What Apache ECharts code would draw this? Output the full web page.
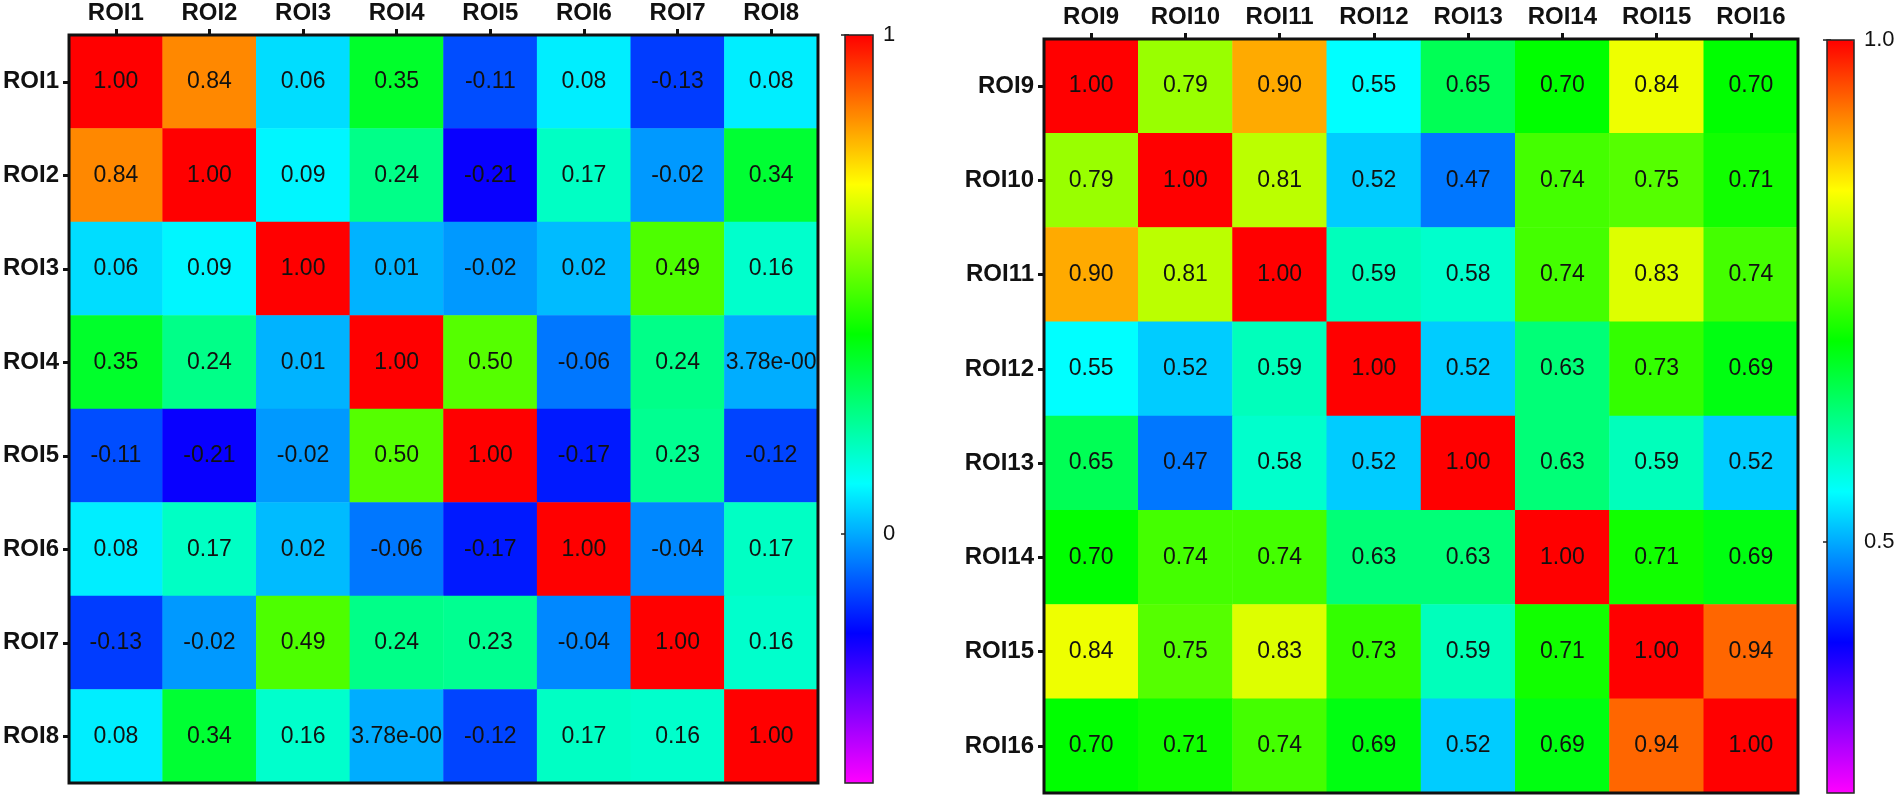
<!DOCTYPE html>
<html>
<head>
<meta charset="utf-8">
<title>ROI correlation heatmaps</title>
<script src="https://cdn.jsdelivr.net/npm/echarts@6/dist/echarts.min.js"></script>
<style>
  html, body { margin: 0; padding: 0; background: #fff; }
  #chart { width: 1902px; height: 799px; }
</style>
</head>
<body>
<div id="chart"></div>
<script>
var leftRois = ['ROI1', 'ROI2', 'ROI3', 'ROI4', 'ROI5', 'ROI6', 'ROI7', 'ROI8'];
var leftCorr = [
  [1.00, 0.84, 0.06, 0.35, -0.11, 0.08, -0.13, 0.08],
  [0.84, 1.00, 0.09, 0.24, -0.21, 0.17, -0.02, 0.34],
  [0.06, 0.09, 1.00, 0.01, -0.02, 0.02, 0.49, 0.16],
  [0.35, 0.24, 0.01, 1.00, 0.50, -0.06, 0.24, 0.00378],
  [-0.11, -0.21, -0.02, 0.50, 1.00, -0.17, 0.23, -0.12],
  [0.08, 0.17, 0.02, -0.06, -0.17, 1.00, -0.04, 0.17],
  [-0.13, -0.02, 0.49, 0.24, 0.23, -0.04, 1.00, 0.16],
  [0.08, 0.34, 0.16, 0.00378, -0.12, 0.17, 0.16, 1.00]
];

var rightRois = ['ROI9', 'ROI10', 'ROI11', 'ROI12', 'ROI13', 'ROI14', 'ROI15', 'ROI16'];
var rightCorr = [
  [1.00, 0.79, 0.90, 0.55, 0.65, 0.70, 0.84, 0.70],
  [0.79, 1.00, 0.81, 0.52, 0.47, 0.74, 0.75, 0.71],
  [0.90, 0.81, 1.00, 0.59, 0.58, 0.74, 0.83, 0.74],
  [0.55, 0.52, 0.59, 1.00, 0.52, 0.63, 0.73, 0.69],
  [0.65, 0.47, 0.58, 0.52, 1.00, 0.63, 0.59, 0.52],
  [0.70, 0.74, 0.74, 0.63, 0.63, 1.00, 0.71, 0.69],
  [0.84, 0.75, 0.83, 0.73, 0.59, 0.71, 1.00, 0.94],
  [0.70, 0.71, 0.74, 0.69, 0.52, 0.69, 0.94, 1.00]
];

// colour scale ranges and the ticks printed beside each bar
var leftRange = [-0.5, 1];
var leftTicks = [0, 1];
var leftTickLabels = ['0', '1'];
var rightRange = [0.25, 1];
var rightTicks = [0.5, 1];
var rightTickLabels = ['0.5', '1.0'];

var rainbow = ['#ff00ff', '#0000ff', '#00ffff', '#00ff00', '#ffff00', '#ff0000'];
var FONT = 'Arial, "Liberation Sans", sans-serif';
var INK = '#111';

function toCells(matrix) {
  var cells = [];
  matrix.forEach(function (row, i) {
    row.forEach(function (v, j) {
      cells.push([j, i, v]);
    });
  });
  return cells;
}

function cellText(p) {
  var v = p.value[2];
  if (v !== 0 && Math.abs(v) < 0.005) {
    // prism style exponent, the cell cuts the tail off
    var parts = v.toExponential(2).split('e');
    var exp = parseInt(parts[1], 10);
    return parts[0] + 'e' + (exp < 0 ? '-' : '+') + ('00' + Math.abs(exp)).slice(-3);
  }
  return v.toFixed(2);
}

var heatBox = [
  {left: 68, top: 35, width: 750, height: 748},
  {left: 1044, top: 39, width: 754, height: 754}
];
var barBox = [
  {left: 845, top: 35, width: 28, height: 748},
  {left: 1827, top: 40, width: 27, height: 753}
];

var catLabel = {color: INK, fontSize: 24, fontWeight: 'bold', fontFamily: FONT, margin: 10};
var catTick = {show: true, alignWithLabel: true, length: 6, lineStyle: {color: INK, width: 3}};

var grids = [];
var xAxes = [];
var yAxes = [];

[leftRois, rightRois].forEach(function (cats, k) {
  var b = heatBox[k];
  grids.push({left: b.left, top: b.top, width: b.width, height: b.height,
    show: true, z: 10, backgroundColor: 'rgba(0,0,0,0)', borderColor: INK, borderWidth: 3});
  xAxes.push({type: 'category', gridIndex: k, data: cats, position: 'top',
    axisLine: {show: false}, axisTick: catTick, axisLabel: catLabel, splitLine: {show: false}});
  yAxes.push({type: 'category', gridIndex: k, data: cats, inverse: true,
    axisLine: {show: false}, axisTick: catTick, axisLabel: catLabel, splitLine: {show: false}});
});

[[leftRange, leftTicks, leftTickLabels], [rightRange, rightTicks, rightTickLabels]].forEach(function (s, k) {
  var b = barBox[k];
  var gi = grids.length;
  var tick = {show: true, inside: true, length: 4, customValues: s[1], lineStyle: {color: '#222', width: 1.5}};
  grids.push({left: b.left, top: b.top, width: b.width, height: b.height,
    show: true, z: 10, backgroundColor: 'rgba(0,0,0,0)', borderColor: '#222', borderWidth: 1.5});
  xAxes.push({type: 'value', gridIndex: gi, min: 0, max: 1, show: false});
  yAxes.push({type: 'value', gridIndex: gi, min: s[0][0], max: s[0][1], position: 'right',
    axisLine: {show: false}, splitLine: {show: false}, axisTick: tick,
    axisLabel: {show: true, customValues: s[1], margin: 10, color: INK, fontSize: 22, fontFamily: FONT,
      formatter: function (v) { return s[2][s[1].indexOf(v)]; }}});
  yAxes.push({type: 'value', gridIndex: gi, min: s[0][0], max: s[0][1], position: 'left',
    axisLine: {show: false}, splitLine: {show: false}, axisTick: tick, axisLabel: {show: false}});
});

var chart = echarts.init(document.getElementById('chart'));

chart.setOption({
  backgroundColor: '#fff',
  animation: false,
  grid: grids,
  xAxis: xAxes,
  yAxis: yAxes,
  visualMap: [
    {type: 'continuous', seriesIndex: 0, min: leftRange[0], max: leftRange[1],
      orient: 'vertical', left: barBox[0].left, top: barBox[0].top, padding: 0,
      itemWidth: barBox[0].width, itemHeight: barBox[0].height,
      calculable: false, inRange: {color: rainbow}},
    {type: 'continuous', seriesIndex: 1, min: rightRange[0], max: rightRange[1],
      orient: 'vertical', left: barBox[1].left, top: barBox[1].top, padding: 0,
      itemWidth: barBox[1].width, itemHeight: barBox[1].height,
      calculable: false, inRange: {color: rainbow}}
  ],
  series: [
    {type: 'heatmap', xAxisIndex: 0, yAxisIndex: 0, data: toCells(leftCorr),
      label: {show: true, formatter: cellText, color: INK, fontSize: 23, fontFamily: FONT,
        width: 98, overflow: 'truncate', ellipsis: ''},
      emphasis: {disabled: true}},
    {type: 'heatmap', xAxisIndex: 1, yAxisIndex: 1, data: toCells(rightCorr),
      label: {show: true, formatter: cellText, color: INK, fontSize: 23, fontFamily: FONT,
        width: 98, overflow: 'truncate', ellipsis: ''},
      emphasis: {disabled: true}}
  ]
});
</script>
</body>
</html>
